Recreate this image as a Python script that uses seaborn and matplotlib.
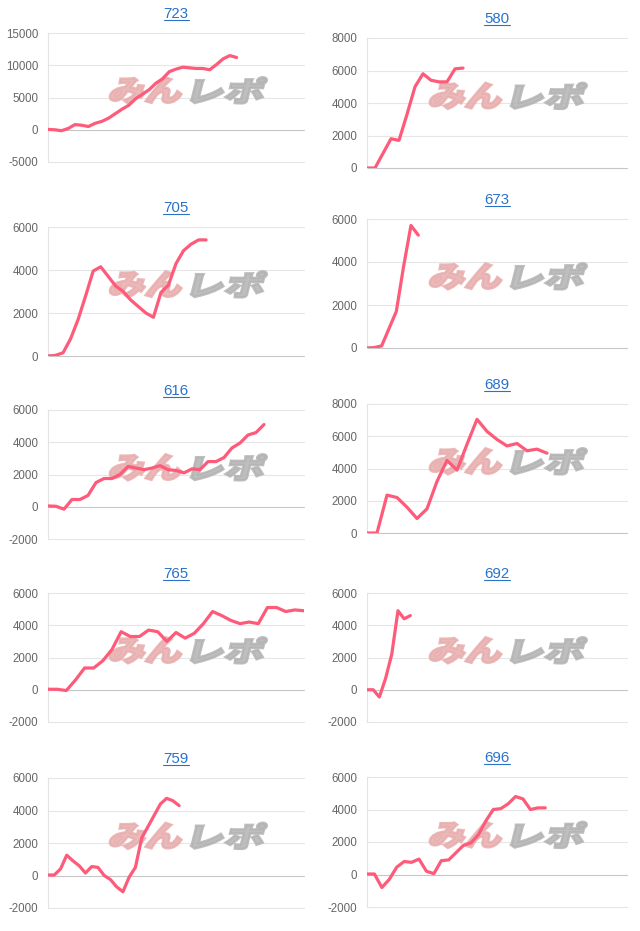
import numpy as np
import matplotlib
matplotlib.use("Agg")
import matplotlib.pyplot as plt
import seaborn as sns
from matplotlib.textpath import TextPath
from matplotlib.font_manager import FontProperties
from matplotlib.patches import PathPatch
from matplotlib.transforms import Affine2D
from matplotlib.lines import Line2D

# machine numbers (chart titles)
titles = ["723", "580", "705", "673", "616", "689", "765", "692", "759", "696"]

# cumulative values per machine
vals_723 = [50, 0, -150, 200, 800, 700, 500, 1000, 1300, 1800, 2500, 3200, 3800, 4800, 5500,
            6200, 7200, 7900, 9000, 9400, 9700, 9600, 9500, 9500, 9300, 10100, 11000, 11500, 11200]
vals_580 = [0, 0, 900, 1800, 1700, 3300, 5000, 5800, 5400, 5300, 5300, 6100, 6150]
vals_705 = [0, 30, 150, 800, 1700, 2800, 3950, 4150, 3700, 3250, 3000, 2600, 2300, 2000, 1800,
            2950, 3300, 4300, 4900, 5200, 5400, 5400]
vals_673 = [0, 20, 100, 900, 1700, 3800, 5700, 5250]
vals_616 = [50, 30, -150, 450, 450, 700, 1500, 1750, 1750, 2000, 2500, 2400, 2300, 2400, 2550,
            2300, 2250, 2100, 2350, 2300, 2800, 2800, 3050, 3650, 3950, 4450, 4600, 5100]
vals_689 = [0, 0, 2350, 2200, 1600, 900, 1500, 3200, 4500, 3900, 5500, 7050, 6300, 5800, 5400,
            5550, 5100, 5200, 4950]
vals_765 = [30, 30, -50, 600, 1350, 1350, 1800, 2500, 3600, 3300, 3300, 3700, 3600, 3000, 3550,
            3200, 3500, 4100, 4850, 4600, 4300, 4100, 4200, 4100, 5100, 5100, 4850, 4950, 4900]
vals_692 = [0, 0, -450, 700, 2200, 4900, 4400, 4600]
vals_759 = [30, 30, 400, 1250, 900, 600, 150, 550, 500, 0, -250, -700, -1000, -100, 500, 2300,
            3000, 3700, 4400, 4750, 4600, 4300]
vals_696 = [30, 30, -800, -300, 450, 800, 750, 950, 200, 50, 850, 900, 1350, 1800, 1950, 2450,
            3300, 4000, 4050, 4350, 4800, 4650, 4000, 4100, 4100]
series = [vals_723, vals_580, vals_705, vals_673, vals_616, vals_689, vals_765, vals_692, vals_759, vals_696]

# x-axis length (number of slots) per chart
x_max = [38, 32.5, 34, 35.5, 32, 26, 28, 42, 41, 35]

# y ticks per chart
y_ticks = [
    [-5000, 0, 5000, 10000, 15000],
    [0, 2000, 4000, 6000, 8000],
    [0, 2000, 4000, 6000],
    [0, 2000, 4000, 6000],
    [-2000, 0, 2000, 4000, 6000],
    [0, 2000, 4000, 6000, 8000],
    [-2000, 0, 2000, 4000, 6000],
    [-2000, 0, 2000, 4000, 6000],
    [-2000, 0, 2000, 4000, 6000],
    [-2000, 0, 2000, 4000, 6000],
]

W, H = 640, 931
# plot areas in pixels: (left, right, top, bottom), measured from the top-left
boxes = [
    (48, 304, 33, 162), (367, 627, 38, 168),
    (48, 304, 227, 356), (367, 627, 219, 348),
    (48, 304, 410, 539), (367, 627, 404, 533),
    (48, 304, 593, 722), (367, 627, 593, 722),
    (48, 304, 778, 908), (367, 627, 777, 907),
]

sns.set_style("white")
plt.rcParams["font.family"] = ["Liberation Sans", "DejaVu Sans"]

line_color = "#fd5b79"
link_color = "#2a72c8"

fig = plt.figure(figsize=(W / 100, H / 100), dpi=100)
fig.patch.set_facecolor("white")

jp = FontProperties(family="Noto Sans CJK JP", weight="black")


def logo_patch(text, x, y, w, h, color):
    tp = TextPath((0, 0), text, size=1, prop=jp)
    ext = tp.get_extents()
    tr = (Affine2D().translate(-ext.x0, -ext.y0)
          .scale(w / ext.width, h / ext.height)
          .skew_deg(14, 0)
          .translate(x, y))
    return PathPatch(tp, transform=tr, facecolor=color, edgecolor=color,
                     linewidth=1.8, joinstyle="miter", zorder=1.5)


axes = []
for i, (title, vals) in enumerate(zip(titles, series)):
    l, r, t, b = boxes[i]
    ax = fig.add_axes([l / W, 1 - b / H, (r - l) / W, (b - t) / H])
    sns.lineplot(x=np.arange(len(vals)), y=vals, ax=ax, color=line_color,
                 linewidth=2.3, zorder=3)
    ax.set_xlim(0, x_max[i])
    ax.set_ylim(y_ticks[i][0], y_ticks[i][-1])
    ax.set_yticks(y_ticks[i])
    ax.set_yticklabels([str(v) for v in y_ticks[i]])
    ax.set_xticks([])
    ax.set_xlabel("")
    ax.set_ylabel("")
    ax.tick_params(axis="y", length=0, pad=7, labelsize=8.3, labelcolor="#666666")
    for s in ["top", "right", "bottom"]:
        ax.spines[s].set_visible(False)
    ax.spines["left"].set_color("#e3e3e3")
    ax.spines["left"].set_linewidth(0.8)
    ax.set_facecolor("none")
    for v in y_ticks[i]:
        ax.axhline(v, color="#c6c6c6" if v == 0 else "#e6e6e6", linewidth=0.8,
                   zorder=1, clip_on=False)
    ax.annotate(title, xy=(0.5, 1), xycoords="axes fraction", xytext=(0, 13.5),
                textcoords="offset points", ha="center", va="center",
                fontsize=10.8, color=link_color)

    # watermark logo
    pw, ph = r - l, b - t
    lx = l + 0.235 * pw
    ly = (H - b) + 0.455 * ph
    ax.add_patch(logo_patch("みん", lx, ly, 71, 26, (0.91, 0.68, 0.68, 0.85)))
    ax.add_patch(logo_patch("レポ", lx + 82, ly, 71, 26, (0.70, 0.70, 0.70, 0.85)))
    axes.append(ax)

# underline the link titles
fig.canvas.draw()
renderer = fig.canvas.get_renderer()
for ax in axes:
    for txt in ax.texts:
        bb = txt.get_window_extent(renderer)
        yl = bb.y0 + 1.0
        fig.add_artist(Line2D([bb.x0 / W, bb.x1 / W], [yl / H, yl / H],
                              color=link_color, linewidth=0.8))

fig.savefig("out.png", dpi=100)
